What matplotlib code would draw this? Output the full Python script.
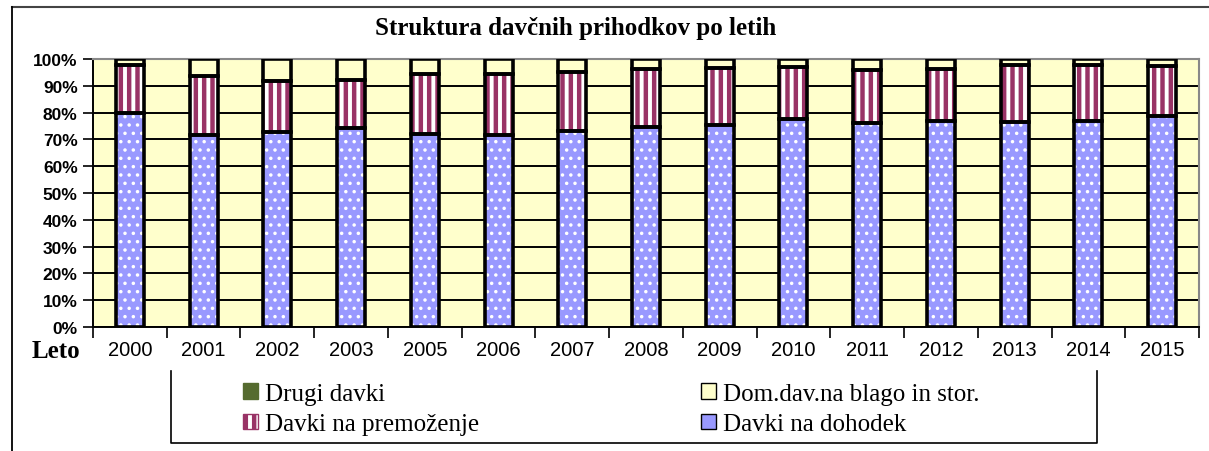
import numpy as np
import matplotlib.pyplot as plt
from matplotlib.lines import Line2D
from matplotlib.patches import Patch

# shares in %
leta = ['2000', '2001', '2002', '2003', '2005', '2006', '2007', '2008',
        '2009', '2010', '2011', '2012', '2013', '2014', '2015']
dohodek = [79.9, 71.6, 72.8, 74.2, 72.0, 71.6, 73.1, 74.5,
           75.4, 77.5, 76.2, 76.9, 76.6, 76.9, 78.6]
premozenje = [17.9, 22.1, 19.0, 18.0, 22.4, 22.8, 22.0, 21.8,
              21.2, 19.5, 19.7, 19.4, 21.2, 20.9, 18.7]
dom_dav = [2.2, 6.3, 8.2, 7.8, 5.6, 5.6, 4.9, 3.7,
           3.4, 3.0, 4.0, 3.7, 2.2, 2.2, 2.7]
drugi = [0.0, 0.0, 0.0, 0.0, 0.0, 0.0, 0.0, 0.0,
         0.0, 0.1, 0.1, 0.0, 0.0, 0.0, 0.0]

W, H = 1209, 452
fig = plt.figure(figsize=(W / 100, H / 100), dpi=100)
ax = fig.add_axes([93 / W, (H - 328) / H, (1199 - 93) / W, (328 - 60) / H])
ax.set_facecolor('#FFFFCC')

x = np.arange(len(leta))
bw = 0.38
doh = np.array(dohodek)
prem = np.array(premozenje)
dom = np.array(dom_dav)
dru = np.array(drugi)

# fills + hatches (hatch linewidth is taken when the patch is made)
plt.rcParams['hatch.linewidth'] = 1.3
ax.bar(x, doh, bw, color='#9999FF', edgecolor='white', hatch='..', linewidth=0, zorder=3)
plt.rcParams['hatch.linewidth'] = 3.2
ax.bar(x, prem, bw, bottom=doh, color='white', edgecolor='#993366', hatch='||', linewidth=0, zorder=3)
ax.bar(x, dom, bw, bottom=doh + prem, color='#FFFFCC', linewidth=0, zorder=3)
ax.bar(x, dru, bw, bottom=doh + prem + dom, color='#556B2F', linewidth=0, zorder=3)
# black outlines
for b, h in [(0, doh), (doh, prem), (doh + prem, dom)]:
    ax.bar(x, h, bw, bottom=b, fill=False, edgecolor='black', linewidth=2.6, zorder=4)

ax.set_xlim(-0.5, len(leta) - 0.5)
ax.set_ylim(0, 100)
ax.set_yticks(np.arange(0, 101, 10))
ax.set_yticklabels([f'{v}%' for v in range(0, 101, 10)],
                   fontfamily='Liberation Sans', fontweight='bold', fontsize=12.5)
ax.yaxis.grid(True, color='black', linewidth=1.4, zorder=1)
ax.set_axisbelow(True)
ax.tick_params(axis='y', length=7, width=1.2, pad=4)

ax.set_xticks(x)
ax.set_xticklabels(leta, fontfamily='Liberation Sans', fontsize=14.5)
ax.set_xticks(np.arange(-0.5, len(leta), 1), minor=True)
ax.tick_params(axis='x', which='major', length=0, pad=9)
ax.tick_params(axis='x', which='minor', length=8, width=1.2)

ax.spines['left'].set_linewidth(1.4)
ax.spines['bottom'].set_linewidth(1.4)
for s in ['top', 'right']:
    ax.spines[s].set_color('#888888')
    ax.spines[s].set_linewidth(1.5)

fig.text(576 / W, 1 - 29 / H, 'Struktura davčnih prihodkov po letih',
         ha='center', va='center', fontfamily='Liberation Serif',
         fontweight='bold', fontsize=18)
fig.text(56 / W, 1 - 351 / H, 'Leto', ha='center', va='center',
         fontfamily='Liberation Serif', fontweight='bold', fontsize=18)

# outer frame
fig.add_artist(Line2D([12 / W, 1], [1 - 8 / H, 1 - 8 / H], transform=fig.transFigure,
                      color='#444444', linewidth=1.5))
fig.add_artist(Line2D([12 / W, 12 / W], [1 - 8 / H, 0], transform=fig.transFigure,
                      color='black', linewidth=1.3))
# legend box (no top side)
fig.add_artist(Line2D([171 / W, 171 / W, 1097 / W, 1097 / W],
                      [1 - 372 / H, 1 - 444 / H, 1 - 444 / H, 1 - 372 / H],
                      transform=fig.transFigure, color='black', linewidth=1.2))

handles = [
    Patch(facecolor='#556B2F', edgecolor='#556B2F', label='Drugi davki'),
    Patch(facecolor='white', edgecolor='#993366', hatch='||', label='Davki na premoženje'),
    Patch(facecolor='#FFFFCC', edgecolor='black', label='Dom.dav.na blago in stor.'),
    Patch(facecolor='#9999FF', edgecolor='black', label='Davki na dohodek'),
]
leg = fig.legend(handles=handles, ncol=2, loc='upper left',
                 bbox_to_anchor=(226 / W, 1 - 366 / H), frameon=False,
                 prop={'family': 'Liberation Serif', 'size': 18},
                 handlelength=0.6, handleheight=0.6, handletextpad=0.25,
                 columnspacing=8.9, labelspacing=0.35, borderpad=0.2)

fig.savefig('out.png', dpi=100)
